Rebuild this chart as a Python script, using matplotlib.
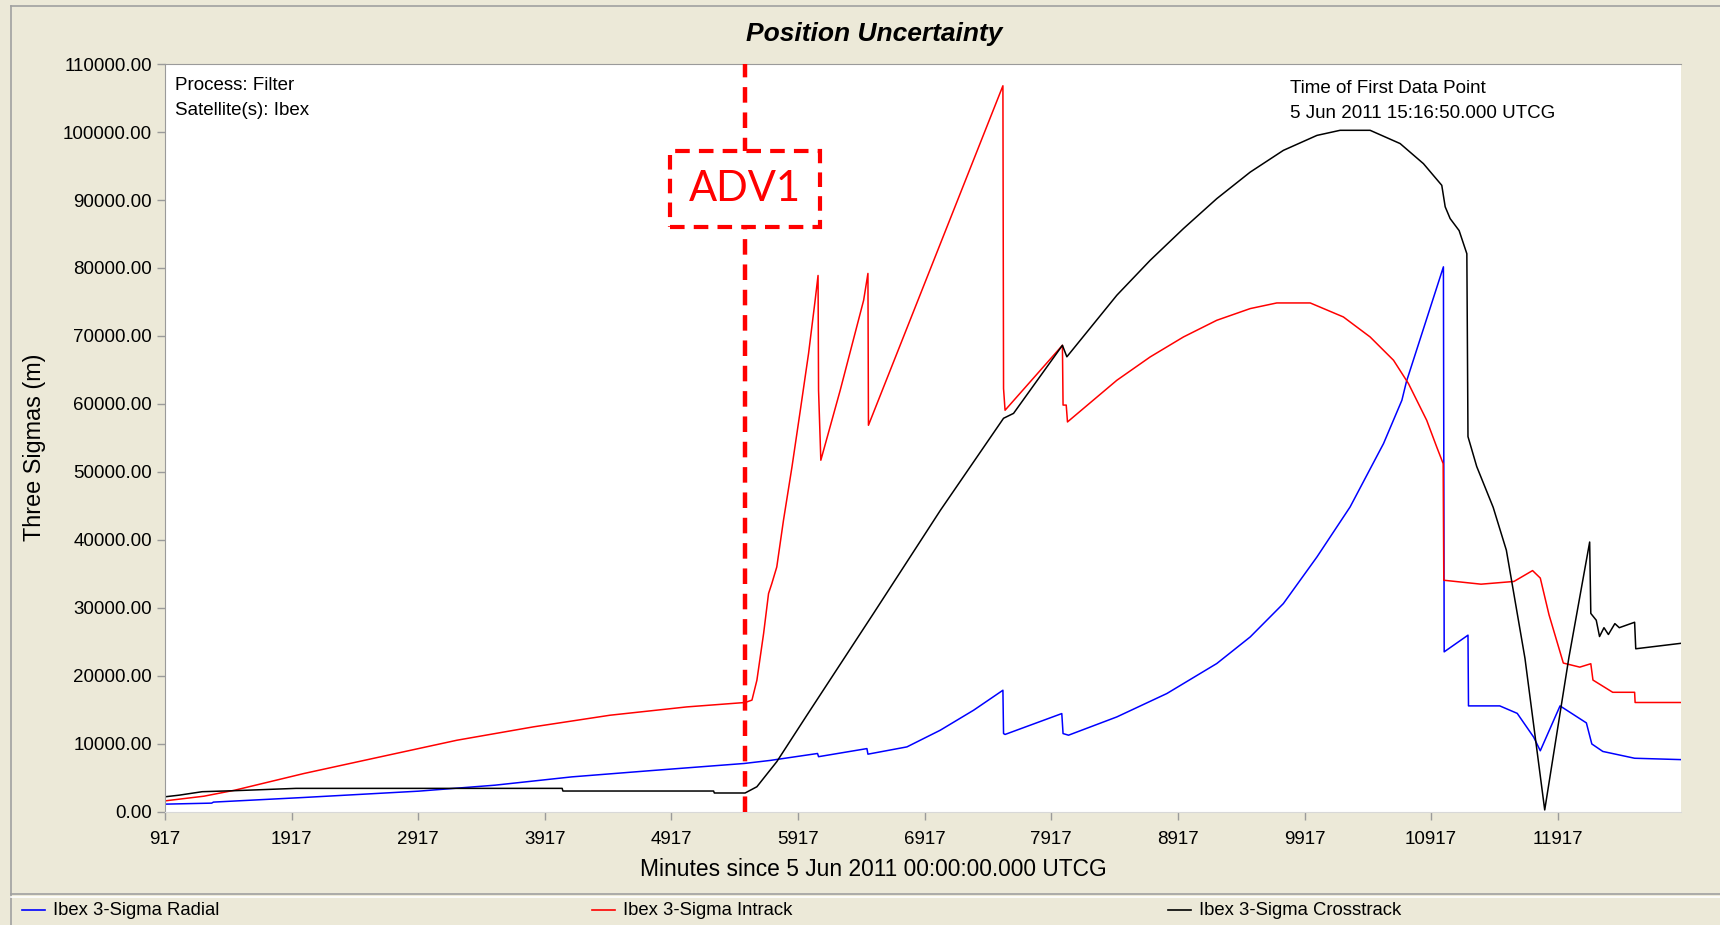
import numpy as np
import matplotlib
matplotlib.use("Agg")
import matplotlib.pyplot as plt
from matplotlib.lines import Line2D

plt.rcParams['font.family'] = ['Liberation Sans', 'DejaVu Sans']

# minutes since 5 Jun 2011 00:00 UTCG, values in metres (3-sigma)
radial_t = [917, 1286, 1300, 2013, 2920, 3524, 4130, 4734, 5491, 5697, 6071, 6079,
            6461, 6469, 6777, 7040, 7304, 7535, 7540, 7552, 8000, 8010, 8053, 8435,
            8830, 9224, 9488, 9750, 10015, 10277, 10541, 10686, 10722, 11014, 11020,
            11208, 11212, 11459, 11597, 11727, 11779, 11935, 12143, 12186, 12273,
            12524, 12888]
radial_v = [1150, 1300, 1450, 2130, 3060, 3940, 5160, 6050, 7130, 7580, 8600, 8130,
            9320, 8500, 9570, 12020, 14970, 17900, 11530, 11400, 14470, 11530, 11290, 13980,
            17420, 21830, 25740, 30650, 37500, 44860, 54180, 60550, 63300, 80170, 23550,
            26000, 15600, 15600, 14500, 11000, 9000, 15600, 13100, 10000, 8900,
            7900, 7700]

intrack_t = [917, 1225, 1468, 2013, 2617, 3223, 3828, 4433, 5038, 5499, 5553, 5592,
             5645, 5684, 5710, 5749, 5802, 5869, 5935, 6000, 6052, 6075, 6079, 6097,
             6250, 6435, 6469, 6473, 7535, 7540, 7552, 8005, 8010, 8035, 8045, 8435,
             8698, 8961, 9224, 9488, 9698, 9962, 10224, 10435, 10620, 10738, 10882,
             10961, 11012, 11017, 11311, 11571, 11718, 11779, 11848, 11961, 12091,
             12178, 12195, 12351, 12524, 12528, 12888]
intrack_v = [1630, 2320, 3200, 5650, 8100, 10550, 12520, 14230, 15450, 16100, 16450, 19370,
             26240, 32120, 33600, 36030, 42900, 50740, 59080, 67420, 75250, 78900, 62020, 51730,
             62020, 75250, 79200, 56870, 106800, 62260, 59080, 68630, 59840, 59840, 57360, 63490,
             66920, 69860, 72310, 74030, 74860, 74860, 72800, 69860, 66430, 63000, 57600,
             53680, 51230, 34080, 33500, 33900, 35500, 34400, 29000, 21900, 21300,
             21800, 19400, 17600, 17600, 16100, 16100]

cross_t = [917, 1029, 1211, 1468, 1952, 4054, 4060, 5250, 5256, 5499, 5592, 5750,
           5987, 6513, 7041, 7540, 7619, 8005, 8040, 8435, 8698, 8961, 9224, 9488,
           9750, 10015, 10198, 10435, 10672, 10856, 11001, 11028, 11067, 11138, 11199,
           11208, 11277, 11407, 11511, 11658, 11814, 12004, 12169, 12178, 12221, 12247,
           12282, 12317, 12368, 12403, 12524, 12533, 12888]
cross_v = [2230, 2470, 2980, 3130, 3470, 3470, 3080, 3080, 2790, 2790, 3710, 7420,
           14230, 29200, 44360, 57900, 58620, 68630, 66940, 76000, 81130, 85800, 90200, 94100,
           97300, 99500, 100250, 100250, 98300, 95350, 92160, 89000, 87270, 85500, 82100,
           55200, 50800, 44800, 38500, 22600, 300, 22600, 39700, 29200, 28200, 25800,
           27100, 26100, 27700, 27100, 27900, 24000, 24800]

adv1_t = 5499
x_ticks = list(range(917, 12000, 1000))
y_ticks = list(range(0, 110001, 10000))

bg = '#ECE9D8'
fig = plt.figure(figsize=(17.2, 9.25), dpi=100, facecolor=bg)
ax = fig.add_axes([0.0959, 0.1222, 0.8814, 0.8086])
ax.set_facecolor('white')

ax.plot(radial_t, radial_v, color='#0000FF', lw=1.1)
ax.plot(intrack_t, intrack_v, color='#FF0000', lw=1.1)
ax.plot(cross_t, cross_v, color='black', lw=1.1)

ax.set_xlim(917, 12890)
ax.set_ylim(0, 110000)
ax.set_xticks(x_ticks)
ax.set_yticks(y_ticks)
ax.set_yticklabels(['%.2f' % v for v in y_ticks])
ax.tick_params(axis='both', labelsize=13.5, colors='#9A9A9A', labelcolor='black', length=6, width=1)
ax.tick_params(axis='x', pad=8)
for s in ['left', 'top']:
    ax.spines[s].set_color('#9A9A9A')
ax.spines['bottom'].set_color('#D8D8D8')
ax.spines['right'].set_visible(False)

# ADV1 marker
ax.axvline(adv1_t, color='#FF0000', lw=3.2, ls=(0, (3.5, 2.2)), zorder=4)
ax.text(adv1_t, 91600, 'ADV1', fontsize=30, color='#FF0000', family='Lato',
        ha='center', va='center', zorder=6,
        bbox=dict(boxstyle='square,pad=0.45', fc='white', ec='#FF0000', lw=3,
                  ls=(0, (3.5, 2.2))))

ax.text(0.0065, 0.982, 'Process: Filter\nSatellite(s): Ibex', transform=ax.transAxes,
        fontsize=13.5, va='top', ha='left', linespacing=1.6)
ax.text(0.742, 0.979, 'Time of First Data Point\n5 Jun 2011 15:16:50.000 UTCG',
        transform=ax.transAxes, fontsize=13.5, va='top', ha='left', linespacing=1.6)

fig.text(0.508, 0.963, 'Position Uncertainty', fontsize=19, fontweight='bold',
         fontstyle='italic', ha='center', va='center')
fig.text(0.508, 0.0605, 'Minutes since 5 Jun 2011 00:00:00.000 UTCG', fontsize=16.4,
         ha='center', va='center')
fig.text(0.0198, 0.516, 'Three Sigmas (m)', fontsize=16.8, rotation=90,
         ha='center', va='center')

# window frame and legend separator
fig.add_artist(Line2D([0.0064, 0.0064], [0.0, 0.994], color='#A0A0A0', lw=1.2))
fig.add_artist(Line2D([0.0064, 1.0], [0.994, 0.994], color='#A0A0A0', lw=1.2))
fig.add_artist(Line2D([0.0064, 1.0], [0.033, 0.033], color='#A0A0A0', lw=1.2))
fig.add_artist(Line2D([0.0064, 1.0], [0.030, 0.030], color='white', lw=1.2))

legend_items = [('Ibex 3-Sigma Radial', '#0000FF', 0.0128),
                ('Ibex 3-Sigma Intrack', '#FF0000', 0.3442),
                ('Ibex 3-Sigma Crosstrack', 'black', 0.679)]
for label, col, x0 in legend_items:
    fig.add_artist(Line2D([x0, x0 + 0.0134], [0.016, 0.016], color=col, lw=1.2))
    fig.text(x0 + 0.018, 0.016, label, fontsize=13.3, ha='left', va='center')

fig.savefig('out.png', dpi=100, facecolor=bg)
